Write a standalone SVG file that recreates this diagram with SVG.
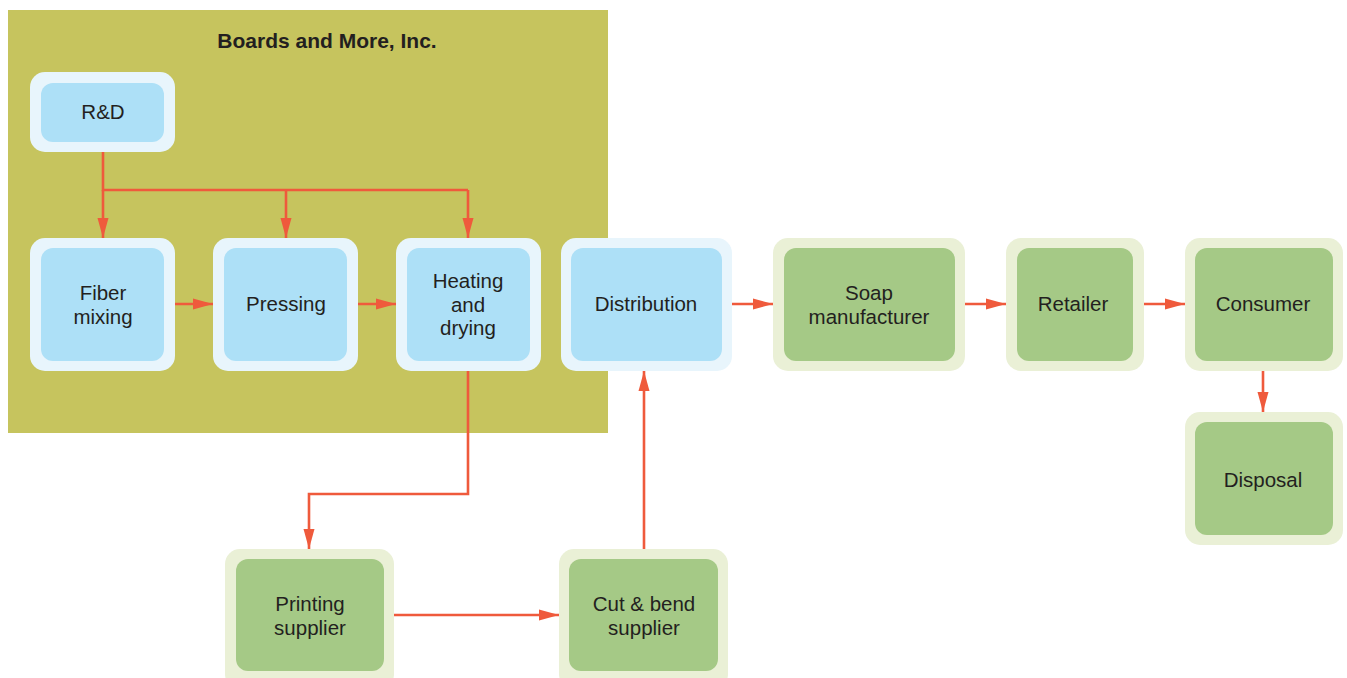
<svg xmlns="http://www.w3.org/2000/svg" width="1347" height="678" viewBox="0 0 1347 678">
<style>
.bo{fill:#E8F5FC}
.bi{fill:#ADE0F7}
.go{fill:#EAF0D6}
.gi{fill:#A5C986}
.t{font-family:"Liberation Sans",Arial,sans-serif;font-size:20.5px;fill:#231F20;text-anchor:middle}
.ttl{font-family:"Liberation Sans",Arial,sans-serif;font-size:21px;font-weight:bold;fill:#231F20;text-anchor:middle}
.c{fill:none;stroke:#EF5A3C;stroke-width:2.6;marker-end:url(#ah)}
.cn{fill:none;stroke:#EF5A3C;stroke-width:2.6}
</style>
<defs>
<marker id="ah" markerUnits="userSpaceOnUse" markerWidth="21" markerHeight="12" refX="20" refY="6" orient="auto">
<path d="M0,0.5 L20,6 L0,11.5 z" fill="#EF5A3C"/>
</marker>
</defs>
<rect width="1347" height="678" fill="#FFFFFF"/>
<g id="company">
<rect x="8" y="10" width="600" height="423" fill="#C6C45E"/>
<text class="ttl" x="327" y="48">Boards and More, Inc.</text>
</g>
<g id="connectors">
<path class="cn" d="M103,152 V190 H468"/>
<path class="c" d="M103,190 V238"/>
<path class="c" d="M286,190 V238"/>
<path class="c" d="M468,190 V238"/>
<path class="c" d="M175,304 H213"/>
<path class="c" d="M358,304 H396"/>
<path class="c" d="M468,371 V494 H309 V549"/>
<path class="c" d="M394,615 H559"/>
<path class="c" d="M644,549 V371"/>
<path class="c" d="M732,304 H773"/>
<path class="c" d="M965,304 H1006"/>
<path class="c" d="M1144,304 H1185"/>
<path class="c" d="M1263,371 V412"/>
</g>
<g id="rd">
<rect class="bo" x="30" y="72" width="145" height="80" rx="15"/>
<rect class="bi" x="41" y="83" width="123" height="59" rx="12"/>
<text class="t" x="103" y="119">R&amp;D</text>
</g>
<g id="fiber">
<rect class="bo" x="30" y="238" width="145" height="133" rx="15"/>
<rect class="bi" x="41" y="248" width="123" height="113" rx="12"/>
<text class="t" x="103" y="300">Fiber</text>
<text class="t" x="103" y="324">mixing</text>
</g>
<g id="pressing">
<rect class="bo" x="213" y="238" width="145" height="133" rx="15"/>
<rect class="bi" x="224" y="248" width="123" height="113" rx="12"/>
<text class="t" x="286" y="311">Pressing</text>
</g>
<g id="heating">
<rect class="bo" x="396" y="238" width="145" height="133" rx="15"/>
<rect class="bi" x="407" y="248" width="123" height="113" rx="12"/>
<text class="t" x="468" y="288">Heating</text>
<text class="t" x="468" y="312">and</text>
<text class="t" x="468" y="335">drying</text>
</g>
<g id="distribution">
<rect class="bo" x="561" y="238" width="171" height="133" rx="15"/>
<rect class="bi" x="571" y="248" width="151" height="113" rx="12"/>
<text class="t" x="646" y="311">Distribution</text>
</g>
<g id="soap">
<rect class="go" x="773" y="238" width="192" height="133" rx="15"/>
<rect class="gi" x="784" y="248" width="171" height="113" rx="12"/>
<text class="t" x="869" y="300">Soap</text>
<text class="t" x="869" y="324">manufacturer</text>
</g>
<g id="retailer">
<rect class="go" x="1006" y="238" width="138" height="133" rx="15"/>
<rect class="gi" x="1017" y="248" width="116" height="113" rx="12"/>
<text class="t" x="1073" y="311">Retailer</text>
</g>
<g id="consumer">
<rect class="go" x="1185" y="238" width="158" height="133" rx="15"/>
<rect class="gi" x="1195" y="248" width="138" height="113" rx="12"/>
<text class="t" x="1263" y="311">Consumer</text>
</g>
<g id="disposal">
<rect class="go" x="1185" y="412" width="158" height="133" rx="15"/>
<rect class="gi" x="1195" y="422" width="138" height="113" rx="12"/>
<text class="t" x="1263" y="487">Disposal</text>
</g>
<g id="printing">
<rect class="go" x="225" y="549" width="169" height="140" rx="15"/>
<rect class="gi" x="236" y="559" width="148" height="112" rx="12"/>
<text class="t" x="310" y="611">Printing</text>
<text class="t" x="310" y="635">supplier</text>
</g>
<g id="cutbend">
<rect class="go" x="559" y="549" width="169" height="140" rx="15"/>
<rect class="gi" x="569" y="559" width="149" height="112" rx="12"/>
<text class="t" x="644" y="611">Cut &amp; bend</text>
<text class="t" x="644" y="635">supplier</text>
</g>
</svg>
